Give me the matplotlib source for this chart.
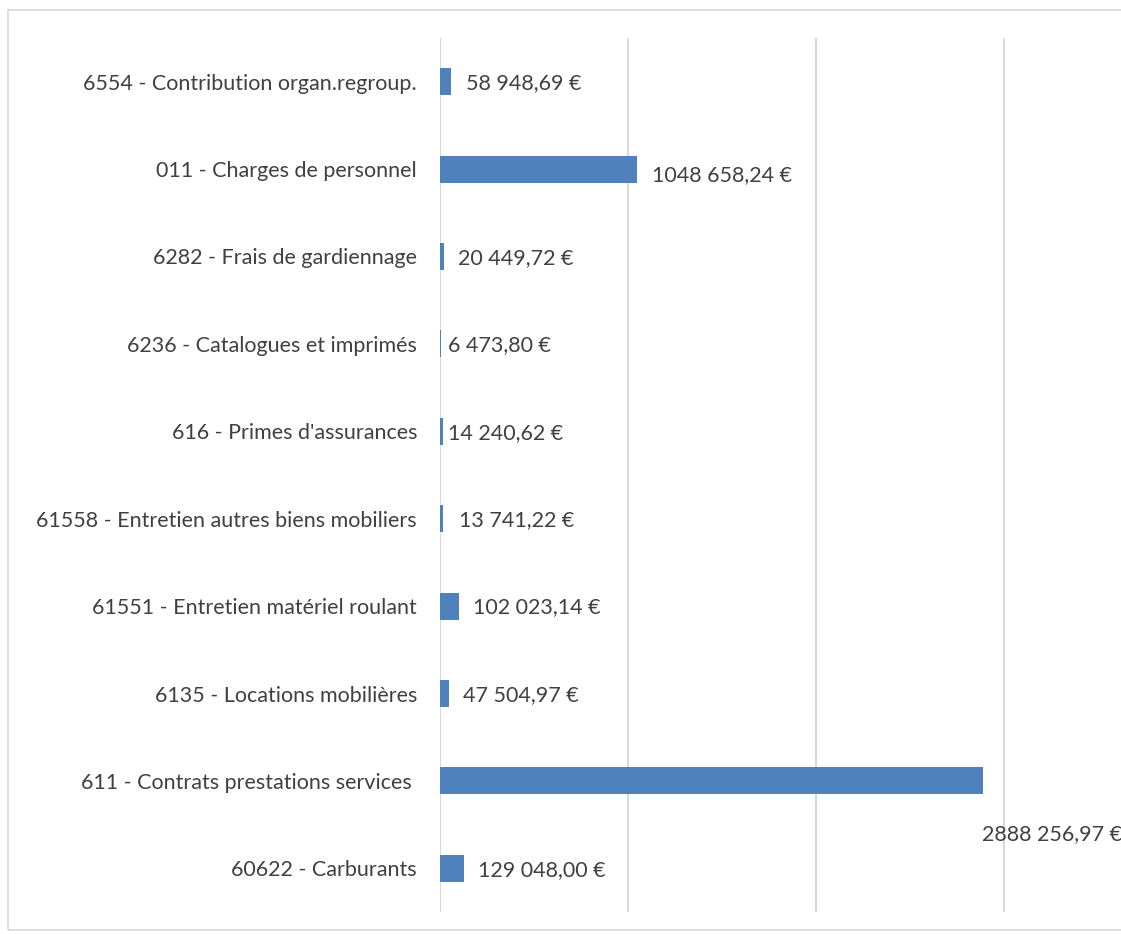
import matplotlib.pyplot as plt
from matplotlib.patches import Rectangle

# ---- data (top to bottom as shown) ----
categories = [
    "6554 - Contribution organ.regroup.",
    "011 - Charges de personnel",
    "6282 - Frais de gardiennage",
    "6236 - Catalogues et imprimés",
    "616 - Primes d'assurances",
    "61558 - Entretien autres biens mobiliers",
    "61551 - Entretien matériel roulant",
    "6135 - Locations mobilières",
    "611 - Contrats prestations services ",
    "60622 - Carburants",
]
values = [58948.69, 1048658.24, 20449.72, 6473.80, 14240.62,
          13741.22, 102023.14, 47504.97, 2888256.97, 129048.00]
value_labels = ["58 948,69 €", "1048 658,24 €", "20 449,72 €", "6 473,80 €",
                "14 240,62 €", "13 741,22 €", "102 023,14 €", "47 504,97 €",
                "2888 256,97 €", "129 048,00 €"]

# label offsets in points (dx, dy) - as placed in the original
label_offsets = [(11, -1), (11, -4), (10, -1), (5, -1), (4, -1),
                 (12, -1), (10, -1), (10, -1), (-1, -38), (10, -1)]

plt.rcParams['font.family'] = ['Lato', 'DejaVu Sans']
text_color = '#404040'
fs = 15.5

fig = plt.figure(figsize=(11.21, 9.34), dpi=100)
W, H = 1121, 934
ax = fig.add_axes([440 / W, 1 - 912 / H, (W - 440) / W, (912 - 38) / H])

# chart border
fig.patches.append(Rectangle((8 / W, 1 - 930 / H), 1.2, (930 - 10) / H,
                             transform=fig.transFigure, fill=False,
                             edgecolor='#D9D9D9', linewidth=1.2))

y = list(range(len(categories)))
ax.barh(y, values, height=0.31, color='#4F81BD', zorder=3)

ax.set_ylim(len(categories) - 0.5, -0.5)
ax.set_xlim(0, (W - 440) / 188 * 1e6)
ax.set_xticks([0, 1e6, 2e6, 3e6])
ax.xaxis.grid(True, color='#D9D9D9', linewidth=1.5, zorder=0)
ax.tick_params(axis='x', length=0, labelbottom=False)
ax.tick_params(axis='y', length=0, pad=16.5, labelsize=fs, labelcolor=text_color)
ax.set_yticks(y)
ax.set_yticklabels(categories)
for s in ax.spines.values():
    s.set_visible(False)

for yi, v, lab, (dx, dy) in zip(y, values, value_labels, label_offsets):
    ax.annotate(lab, (v, yi), xytext=(dx, dy), textcoords='offset points',
                ha='left', va='center', fontsize=fs, color=text_color)

fig.savefig('out.png', dpi=100)
